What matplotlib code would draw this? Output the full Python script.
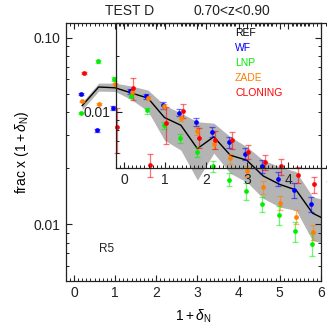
import numpy as np
import matplotlib.pyplot as plt
from matplotlib.ticker import MultipleLocator, FixedLocator, NullFormatter, FixedFormatter

plt.rcParams['font.family'] = ['Liberation Sans', 'DejaVu Sans']
plt.rcParams['mathtext.fontset'] = 'custom'
plt.rcParams['mathtext.rm'] = 'Liberation Sans'
plt.rcParams['mathtext.it'] = 'Liberation Sans:italic'

# bin centres in 1+delta_N
xbin = [0.2, 0.6, 1.0, 1.4, 1.8, 2.2, 2.6, 3.0, 3.4, 3.8, 4.2, 4.6, 5.0, 5.4, 5.8, 6.2]

# REF: line + grey band
ref = [0.0433, 0.0545, 0.054, 0.0506, 0.0475, 0.0374, 0.034, 0.0255, 0.0295, 0.0235,
       0.0221, 0.0182, 0.0164, 0.0153, 0.0115, 0.0104]
ref_hi = [0.0452, 0.0572, 0.0572, 0.0551, 0.0525, 0.0436, 0.0395, 0.0355, 0.0349, 0.0295,
          0.0261, 0.0221, 0.0204, 0.0192, 0.0141, 0.0133]
ref_lo = [0.0412, 0.0518, 0.0516, 0.0466, 0.0404, 0.0283, 0.025, 0.0173, 0.0241, 0.0188,
          0.0169, 0.0138, 0.0124, 0.0119, 0.0082, 0.0078]

# methods (first 15 bins)
wf = [0.0501, 0.0319, 0.042, 0.0518, 0.0485, 0.0436, 0.0397, 0.0355, 0.0313, 0.0275,
      0.024, 0.0205, 0.0175, 0.0153, 0.0128]
wf_err = [0.0005, 0.0005, 0.001, 0.0015, 0.0015, 0.0018, 0.0018, 0.0018, 0.0018, 0.0018,
          0.0018, 0.0017, 0.0015, 0.0014, 0.0012]
lnp = [0.0395, 0.0747, 0.0601, 0.0489, 0.0408, 0.034, 0.0289, 0.0245, 0.0205, 0.0174,
       0.0151, 0.0129, 0.0112, 0.0092, 0.0079]
lnp_err = [0.0006, 0.001, 0.0012, 0.0015, 0.0015, 0.0015, 0.0015, 0.0015, 0.0015, 0.0014,
           0.0016, 0.0012, 0.0013, 0.0011, 0.0011]
zade = [0.0456, 0.0443, 0.0565, 0.051, 0.0475, 0.043, 0.037, 0.0318, 0.0269, 0.0226,
        0.0193, 0.0158, 0.0131, 0.011, 0.0091]
zade_err = [0.0005, 0.0005, 0.001, 0.001, 0.0012, 0.0012, 0.0013, 0.0015, 0.0015, 0.0014,
            0.0013, 0.0012, 0.0011, 0.0009, 0.0008]
clon = [0.0647, np.nan, 0.0332, 0.0537, 0.0209, 0.0348, 0.0407, 0.0292, 0.0285, 0.0283,
        0.0245, 0.0216, 0.0205, 0.0184, 0.0164]
clon_err = [0.0008, np.nan, 0.009, 0.0072, 0.003, 0.0077, 0.0037, 0.0035, 0.003, 0.003,
            0.002, 0.002, 0.002, 0.0018, 0.0016]

names = ['REF', 'WF', 'LNP', 'ZADE', 'CLONING']
colors = ['black', '#0000ff', '#00ee00', '#ff8000', '#ff0000']

fig = plt.figure(figsize=(3.27, 3.27), dpi=100)
ax = fig.add_axes([0.201, 0.1416, 0.78, 0.788])

x = np.array(xbin)
ax.fill_between(x, ref_lo, ref_hi, color='#b4b4b4', lw=0, zorder=1)
ax.plot(x, ref, color='black', lw=1.0, zorder=3)

series = [(wf, wf_err, -0.04), (lnp, lnp_err, -0.02), (zade, zade_err, 0.0), (clon, clon_err, 0.04)]
for (vals, err, off), c in zip(series, colors[1:]):
    xs = x[:len(vals)] + off
    ax.errorbar(xs, vals, yerr=err, fmt='none', ecolor=c, alpha=0.55, elinewidth=0.9,
                capsize=2, capthick=0.9, zorder=4)
    ax.plot(xs, vals, 'o', color=c, ms=3.4, mew=0, zorder=5)

ax.set_yscale('log')
ax.set_xlim(-0.2, 6)
ax.set_ylim(0.005, 0.12)
ax.xaxis.set_major_locator(MultipleLocator(1))
ax.xaxis.set_minor_locator(MultipleLocator(0.1))
ax.yaxis.set_major_locator(FixedLocator([0.01, 0.1]))
ax.yaxis.set_major_formatter(FixedFormatter(['0.01', '0.10']))
ax.yaxis.set_minor_formatter(NullFormatter())
for a in [ax]:
    a.tick_params(which='both', direction='in', top=True, right=True, labelsize=10, colors='#222222')
    a.tick_params(which='major', length=4, width=0.8)
    a.tick_params(which='minor', length=2.2, width=0.7)
ax.set_xlabel(r'$1+\delta_{\rm N}$', fontsize=10, labelpad=6)
ax.set_ylabel(r'frac x $(1+\delta_{\rm N})$', fontsize=10, labelpad=2)

ys = [0.961, 0.903, 0.845, 0.786, 0.728]
for n, c, yy in zip(names, colors, ys):
    ax.text(0.664, yy, n, color=c, fontsize=7.5, transform=ax.transAxes, va='center', ha='left')
ax.text(0.162, 0.123, 'R5', fontsize=8.5, transform=ax.transAxes, ha='center', va='center',
        color='#222222')

# overlaid second frame
ax2 = fig.add_axes([0.3538, 0.4862, 0.78, 0.4434])
ax2.patch.set_alpha(0)
ax2.set_yscale('log')
ax2.set_xlim(-0.2, 6)
ax2.set_ylim(0.005, 0.03)
ax2.xaxis.set_major_locator(MultipleLocator(1))
ax2.xaxis.set_minor_locator(MultipleLocator(0.1))
ax2.yaxis.set_major_locator(FixedLocator([0.01]))
ax2.yaxis.set_major_formatter(FixedFormatter(['0.01']))
ax2.yaxis.set_minor_formatter(NullFormatter())
ax2.tick_params(which='both', direction='in', top=True, right=True, labelsize=10, colors='#222222')
ax2.tick_params(which='major', length=4, width=0.8)
ax2.tick_params(which='minor', length=2.2, width=0.7)

for a in [ax, ax2]:
    for s in a.spines.values():
        s.set_linewidth(0.9)
        s.set_color('#222222')

fig.text(130 / 327, 1 - 11 / 327, 'TEST D', ha='center', va='center', fontsize=10, color='#222222')
fig.text(232 / 327, 1 - 11 / 327, '0.70<z<0.90', ha='center', va='center', fontsize=10, color='#222222')

fig.savefig('out.png', dpi=100)
